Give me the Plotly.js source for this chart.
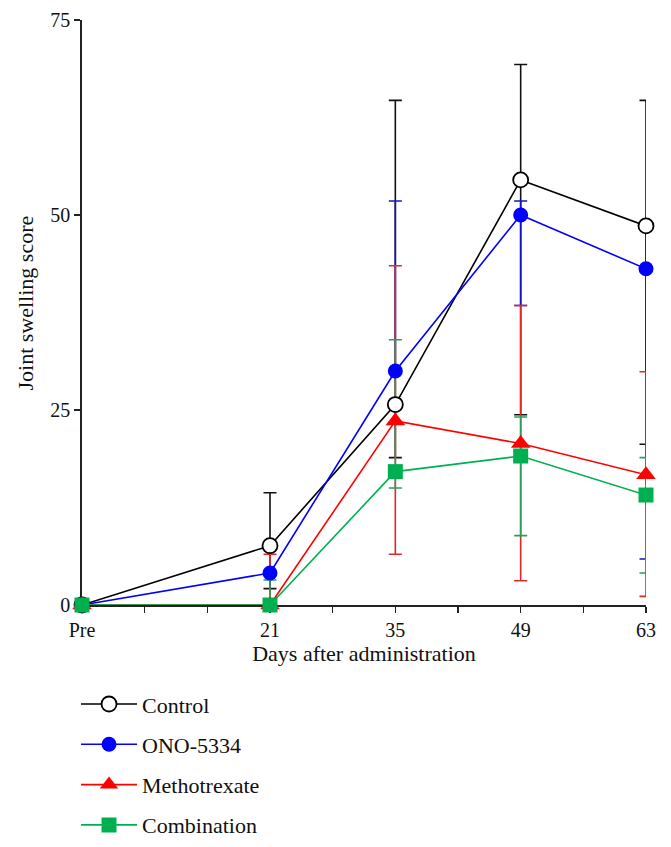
<!DOCTYPE html>
<html>
<head>
<meta charset="utf-8">
<script src="https://cdn.plot.ly/plotly-3.0.1.min.js"></script>
<style>html,body{margin:0;padding:0;background:#fff;}#chart{width:671px;height:847px;}</style>
</head>
<body>
<div id="chart"></div>
<script>
// Days after administration (Pre = day 0)
var days = [0, 21, 35, 49, 63];
var tickDays = [0, 7, 14, 21, 28, 35, 42, 49, 56, 63];
var tickLabels = ['Pre', '', '', '21', '', '35', '', '49', '', '63'];
var yTicks = [0, 25, 50, 75];
var yTitle = 'Joint swelling score';
var xTitle = 'Days after administration';

var seriesNames = ['Control', 'ONO-5334', 'Methotrexate', 'Combination'];

var control      = [0, 7.6, 25.7, 54.5, 48.6];
var controlPlus  = [0, 6.8, 39.0, 14.8, 16.1];
var controlMinus = [0, 5.5, 6.8, 30.1, 28.0];

var ono      = [0, 4.1, 30.0, 50.0, 43.1];
var onoPlus  = [0, 0, 21.8, 1.8, 5.5];
var onoMinus = [0, 0, 0, 11.6, 37.2];

var mtx      = [0, 0, 23.6, 20.7, 16.7];
var mtxPlus  = [0, 6.5, 19.9, 17.7, 13.2];
var mtxMinus = [0, 0, 17.1, 17.6, 15.6];

var combo      = [0, 0, 17.1, 19.1, 14.1];
var comboPlus  = [0, 3.2, 16.9, 5.0, 4.8];
var comboMinus = [0, 0, 2.1, 10.2, 10.0];

var lineColors = ['#000000', '#0000ff', '#ff0000', '#00b050'];
var errColors  = ['#111111', '#1515c0', '#e02828', '#2a9e5c'];
var ys = [control, ono, mtx, combo];
var pluses = [controlPlus, onoPlus, mtxPlus, comboPlus];
var minuses = [controlMinus, onoMinus, mtxMinus, comboMinus];
var symbols = ['circle', 'circle', 'triangle-up', 'square'];
var fills = ['#ffffff', '#0000ff', '#ff0000', '#00b050'];
var sizes = [15, 15, 17, 15];

var traces = [];
// error bars first (drawn beneath all lines and markers)
for (var i = 0; i < 4; i++) {
  traces.push({
    x: days, y: ys[i], type: 'scatter', mode: 'markers',
    marker: {size: 1, opacity: 0},
    showlegend: false, hoverinfo: 'skip', cliponaxis: false,
    error_y: {type: 'data', symmetric: false, array: pluses[i], arrayminus: minuses[i],
      color: errColors[i], thickness: 1.6, width: 6.5}
  });
}
for (var j = 0; j < 4; j++) {
  traces.push({
    x: days, y: ys[j], type: 'scatter', mode: 'lines+markers', name: seriesNames[j],
    legendgroup: 'g' + j, cliponaxis: false,
    line: {color: lineColors[j], width: 1.6},
    marker: {symbol: symbols[j], size: sizes[j], color: fills[j],
      line: {color: j === 0 ? '#000000' : fills[j], width: j === 0 ? 1.8 : 0}}
  });
}

var font = 'Liberation Serif, Times New Roman, serif';
var layout = {
  width: 671, height: 847,
  margin: {l: 82, r: 25, t: 20, b: 242, autoexpand: false},
  paper_bgcolor: '#ffffff', plot_bgcolor: '#ffffff',
  font: {family: font, size: 20, color: '#111111'},
  showlegend: true,
  xaxis: {
    range: [0, 63], tickvals: tickDays, ticktext: tickLabels,
    showgrid: false, zeroline: false, showline: true, linecolor: '#222222', linewidth: 1.8,
    ticks: 'outside', ticklen: 6, tickwidth: 1.6, tickcolor: '#222222',
    tickfont: {family: font, size: 20, color: '#111111'},
    layer: 'below traces',
    title: {text: xTitle, font: {family: font, size: 22, color: '#111111'}, standoff: 6}
  },
  yaxis: {
    range: [0, 75], tickvals: yTicks,
    showgrid: false, zeroline: false, showline: true, linecolor: '#222222', linewidth: 1.8,
    ticks: 'outside', ticklen: 6, tickwidth: 1.6, tickcolor: '#222222',
    tickfont: {family: font, size: 20, color: '#111111'},
    layer: 'below traces'
  },
  annotations: [{
    text: yTitle, xref: 'paper', yref: 'paper', x: 0, y: 0.5,
    xanchor: 'center', yanchor: 'middle', xshift: -57, yshift: 9,
    textangle: -90, showarrow: false,
    font: {family: font, size: 22, color: '#111111'}
  }],
  legend: {
    xref: 'container', yref: 'container', x: 0.1133, y: 0.1934, xanchor: 'left', yanchor: 'top',
    traceorder: 'grouped', tracegroupgap: 8.7, itemwidth: 56,
    font: {family: font, size: 22, color: '#111111'},
    bgcolor: 'rgba(0,0,0,0)'
  }
};

Plotly.newPlot('chart', traces, layout, {displayModeBar: false, staticPlot: true});
</script>
</body>
</html>
